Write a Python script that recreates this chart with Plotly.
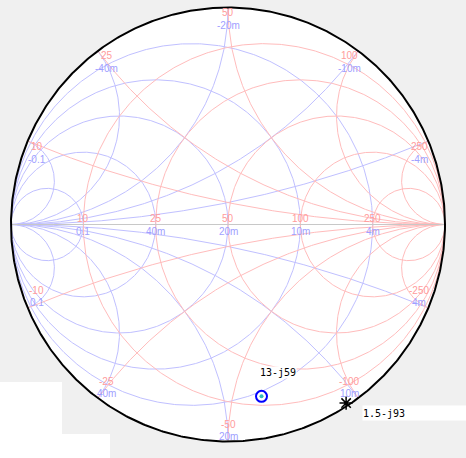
import numpy as np
import plotly.graph_objects as go

# ---------------- data ----------------
Z0 = 50.0
res_ohms = [10, 25, 50, 100, 250]            # resistance circles (ohm)
react_ohms = [10, 25, 50, 100, 250]          # reactance arcs (+/- ohm)
cond_S = [0.1, 0.04, 0.02, 0.01, 0.004]      # conductance circles (S)
susc_S = [0.1, 0.04, 0.02, 0.01, 0.004]      # susceptance arcs (+/- S)

res_labels = ["10", "25", "50", "100", "250"]
cond_labels = ["0.1", "40m", "20m", "10m", "4m"]
upper_red = ["10", "25", "50", "100", "250"]
upper_blue = ["-0.1", "-40m", "-20m", "-10m", "-4m"]
lower_red = ["-10", "-25", "-50", "-100", "-250"]
lower_blue = ["0.1", "40m", "20m", "10m", "4m"]

pt_z = [complex(13, -59), complex(1.5, -93)]
pt_labels = ["13-j59", "1.5-j93"]

RED = "#ffbcbc"
BLUE = "#c0c0ff"
RED_T = "#ff9c9c"
BLUE_T = "#a0a0ff"


def gz(z):
    zn = np.asarray(z) / Z0
    return (zn - 1) / (zn + 1)


def gy(y):
    yn = np.asarray(y) * Z0
    return (1 - yn) / (1 + yn)


t = np.concatenate([[0.0], np.logspace(-3, 5, 900)])
th = np.linspace(0, 2 * np.pi, 721)

fig = go.Figure()


def add_curve(g, color, width=1):
    fig.add_trace(go.Scatter(x=np.real(g), y=np.imag(g), mode="lines",
                             line=dict(color=color, width=width),
                             hoverinfo="skip", showlegend=False))


# admittance grid (blue)
for G in cond_S:
    gn = G * Z0
    c, rho = -gn / (1 + gn), 1 / (1 + gn)
    add_curve(c + rho * np.exp(1j * th), BLUE)
for B in susc_S:
    for s in (1, -1):
        add_curve(gy((t / Z0) + 1j * s * B), BLUE)

# impedance grid (red)
for R in res_ohms:
    rn = R / Z0
    c, rho = rn / (1 + rn), 1 / (1 + rn)
    add_curve(c + rho * np.exp(1j * th), RED)
for X in react_ohms:
    for s in (1, -1):
        add_curve(gz(t * Z0 + 1j * s * X), RED)

# real axis
ra = gz(np.concatenate([[0.0], np.logspace(-3, 6, 50)]))
add_curve(ra, "#c8c8c8")
# outer circle r = 0
add_curve(np.exp(1j * th), "black", 2)

# data points
g1 = gz(pt_z[0])
fig.add_trace(go.Scatter(x=[g1.real], y=[g1.imag], mode="markers",
                         marker=dict(symbol="circle-open", size=11, color="#0000ff",
                                     line=dict(width=2, color="#0000ff")),
                         showlegend=False, hoverinfo="skip"))
fig.add_trace(go.Scatter(x=[g1.real], y=[g1.imag], mode="markers",
                         marker=dict(symbol="circle", size=4, color="#33bbbb"),
                         showlegend=False, hoverinfo="skip"))
g2 = gz(pt_z[1])
fig.add_trace(go.Scatter(x=[g2.real], y=[g2.imag], mode="markers",
                         marker=dict(symbol="asterisk-open", size=11, color="black",
                                     line=dict(width=1.5, color="black")),
                         showlegend=False, hoverinfo="skip"))

ann = []
lab_font = dict(family="Liberation Sans, Arial, sans-serif", size=10)

# real axis labels
for R, lr, G, lb in zip(res_ohms, res_labels, cond_S, cond_labels):
    gr = gz(R)
    ann.append(dict(x=gr.real, y=0, text=lr, showarrow=False, yshift=6,
                    font=dict(lab_font, color=RED_T)))
    gb = gy(G)
    ann.append(dict(x=gb.real, y=0, text=lb, showarrow=False, yshift=-7,
                    font=dict(lab_font, color=BLUE_T)))


def xsh(gx):
    if gx < -0.3:
        return 9
    if gx > 0.3:
        return -9
    return 0


for X, ur, ub, lr, lb in zip(react_ohms, upper_red, upper_blue, lower_red, lower_blue):
    gu = gz(1j * X)
    ann.append(dict(x=gu.real, y=gu.imag, text=ur, showarrow=False,
                    xshift=xsh(gu.real), yshift=-5, font=dict(lab_font, color=RED_T)))
    ann.append(dict(x=gu.real, y=gu.imag, text=ub, showarrow=False,
                    xshift=xsh(gu.real), yshift=-18, font=dict(lab_font, color=BLUE_T)))
    gl = gz(-1j * X)
    ann.append(dict(x=gl.real, y=gl.imag, text=lr, showarrow=False,
                    xshift=xsh(gl.real), yshift=17, font=dict(lab_font, color=RED_T)))
    ann.append(dict(x=gl.real, y=gl.imag, text=lb, showarrow=False,
                    xshift=xsh(gl.real), yshift=5, font=dict(lab_font, color=BLUE_T)))

mono = dict(family="DejaVu Sans Mono, monospace", size=10, color="black")
ann.append(dict(x=g1.real, y=g1.imag, text=pt_labels[0], showarrow=False,
                xanchor="left", xshift=-3, yshift=24, font=mono,
                bgcolor="white", borderpad=0))
ann.append(dict(x=g2.real, y=g2.imag, text=pt_labels[1], showarrow=False,
                xanchor="left", xshift=16, yshift=-10, font=mono,
                bgcolor="white", borderpad=0, width=103, height=14, align="left"))

W, H = 466, 458
cx, cy, rad = 228.0, 224.5, 217.0

shapes = [
    dict(type="circle", xref="x", yref="y", x0=-1, x1=1, y0=-1, y1=1,
         fillcolor="white", line=dict(width=0), layer="below"),
    dict(type="rect", xref="paper", yref="paper", x0=0, x1=62 / W,
         y0=0, y1=1 - 382 / H, fillcolor="white", line=dict(width=0), layer="below"),
    dict(type="rect", xref="paper", yref="paper", x0=0, x1=110 / W,
         y0=0, y1=1 - 434 / H, fillcolor="white", line=dict(width=0), layer="below"),
]

fig.update_layout(
    width=W, height=H, margin=dict(l=0, r=0, t=0, b=0),
    paper_bgcolor="#f0f0f0", plot_bgcolor="#f0f0f0",
    xaxis=dict(range=[-cx / rad, (W - cx) / rad], visible=False, fixedrange=True),
    yaxis=dict(range=[-(H - cy) / rad, cy / rad], visible=False, fixedrange=True),
    showlegend=False, annotations=ann, shapes=shapes,
)

fig.write_html("out.html", post_script="document.body.style.margin='0';",
               config={"displayModeBar": False})
